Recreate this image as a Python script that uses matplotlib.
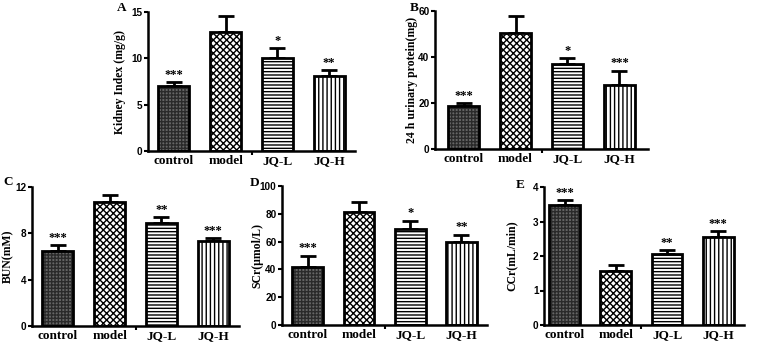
import matplotlib
matplotlib.use("Agg")
import matplotlib.pyplot as plt

plt.rcParams['font.family'] = ['Liberation Serif', 'DejaVu Serif']
plt.rcParams['font.weight'] = 'bold'
plt.rcParams['hatch.linewidth'] = 1.0

groups = ['control', 'model', 'JQ-L', 'JQ-H']

# panel A: kidney index
kidney_mean = [7.0, 12.8, 10.0, 8.1]
kidney_err = [0.4, 1.8, 1.1, 0.6]
kidney_sig = ['***', '', '*', '**']

# panel B: 24 h urinary protein
protein_mean = [18.5, 50.5, 36.8, 28.0]
protein_err = [1.5, 7.5, 2.8, 6.0]
protein_sig = ['***', '', '*', '***']

# panel C: BUN
bun_mean = [6.5, 10.7, 8.9, 7.3]
bun_err = [0.5, 0.6, 0.5, 0.3]
bun_sig = ['***', '', '**', '***']

# panel D: SCr
scr_mean = [42.0, 81.5, 69.0, 60.0]
scr_err = [8.0, 7.0, 6.0, 5.0]
scr_sig = ['***', '', '*', '**']

# panel E: CCr
ccr_mean = [3.48, 1.57, 2.07, 2.55]
ccr_err = [0.13, 0.18, 0.10, 0.17]
ccr_sig = ['***', '', '**', '***']

fills = ['#666666', 'white', 'white', 'white']
hatch_col = ['#2a2a2a', 'black', 'black', 'black']
hatches = ['+++++', 'xxxxx', '-----', '||||']

W, H = 757, 343
fig = plt.figure(figsize=(W / 100, H / 100), dpi=100)


def panel(left, right, top, bottom, mean, err, sig, ylabel, ymax, step,
          letter, letter_xy, label_x, xl=(-0.5, 3.5)):
    ax = fig.add_axes([left / W, 1 - bottom / H, (right - left) / W,
                       (bottom - top) / H])
    x = range(len(groups))
    for i in x:
        ax.bar(i, mean[i], width=0.6, color=fills[i], hatch=hatches[i],
               edgecolor=hatch_col[i], linewidth=0, zorder=2)
        ax.bar(i, mean[i], width=0.6, fill=False, edgecolor='black',
               linewidth=2, zorder=3)
    ax.errorbar(list(x), mean, yerr=[[0] * 4, err], fmt='none',
                ecolor='black', elinewidth=2, capsize=6, capthick=2,
                zorder=1)
    for i in x:
        if sig[i]:
            ax.text(i, mean[i] + err[i] + ymax * 0.01, sig[i], ha='center',
                    va='bottom', fontsize=9, fontweight='bold')
    ax.set_xlim(*xl)
    ax.set_ylim(0, ymax)
    ax.set_yticks([v * step for v in range(int(round(ymax / step)) + 1)])
    ax.set_xticks(list(x))
    ax.set_xticklabels(groups, fontsize=9.5, fontweight='bold')
    ax.set_xticks([1.5], minor=True)
    ax.tick_params(axis='x', which='major', length=0, pad=3)
    ax.tick_params(axis='x', which='minor', length=3, width=1.5,
                   direction='out')
    ax.tick_params(axis='y', length=3, width=1.5, labelsize=7.2, pad=1)
    for lab in ax.get_yticklabels():
        lab.set_fontweight('bold')
        lab.set_family('Liberation Sans')
    ax.spines['top'].set_visible(False)
    ax.spines['right'].set_visible(False)
    ax.spines['left'].set_linewidth(1.8)
    ax.spines['bottom'].set_linewidth(1.8)
    ax.set_ylabel(ylabel, fontsize=8.5, fontweight='bold')
    # label_x is the right edge of the rotated label, in pixels
    ax.yaxis.set_label_coords((label_x - left) / (right - left), 0.5)
    fig.text(letter_xy[0] / W, 1 - letter_xy[1] / H, letter, fontsize=9.5,
             fontweight='bold', ha='left', va='top')
    return ax


panel(148, 355, 12, 151, kidney_mean, kidney_err, kidney_sig,
      'Kidney Index (mg/g)', 15, 5, 'A', (117, 2), 126)
panel(435, 648, 11, 149, protein_mean, protein_err, protein_sig,
      '24 h urinary protein(mg)', 60, 20, 'B', (410, 2), 418,
      xl=(-0.55, 3.55))
panel(32, 239, 187, 326, bun_mean, bun_err, bun_sig,
      'BUN(mM)', 12, 4, 'C', (3, 176), 14)
panel(282, 487, 186, 325, scr_mean, scr_err, scr_sig,
      'SCr(μmol/L)', 100, 20, 'D', (250, 177), 263)
panel(544, 744, 187, 325, ccr_mean, ccr_err, ccr_sig,
      'CCr(mL/min)', 4, 1, 'E', (516, 179), 518, xl=(-0.4, 3.5))

fig.savefig('out.png', dpi=100)
